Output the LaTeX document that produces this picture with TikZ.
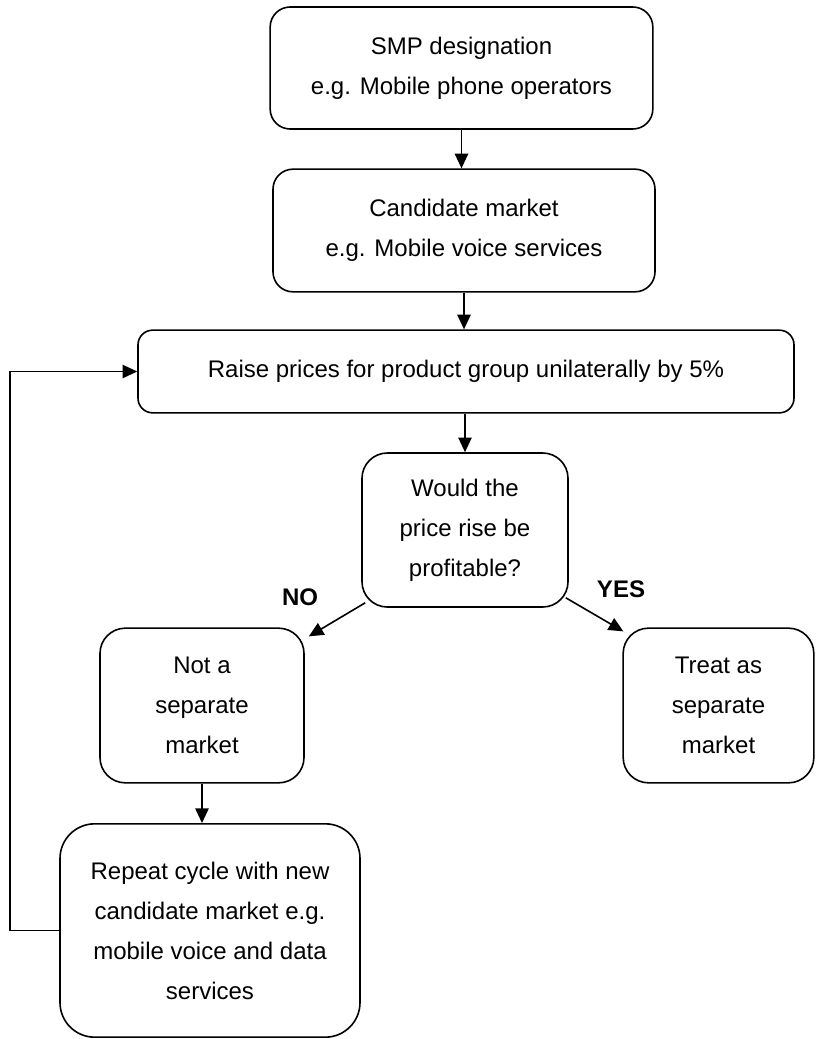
\documentclass[tikz,border=0pt]{standalone}
\usepackage{fontspec}
\setmainfont{Liberation Sans}
\usetikzlibrary{arrows.meta}

\begin{document}
\begin{tikzpicture}[x=0.75pt, y=-0.75pt, line width=1.2pt]
    \tikzstyle{every node}=[align = center, font=\fontsize{18}{30}\selectfont]
    \tikzstyle{box}=[draw, inner sep=0pt, rounded corners=15pt]
    \tikzstyle{arr}=[-{Triangle[length=11pt,width=10pt]}]
    \tikzstyle{answer}=[font=\fontsize{18}{22}\selectfont\bfseries]
    \useasboundingbox (0,0) rectangle (815,1039);

    \node[box, minimum width=287pt, minimum height=91.5pt] (smp) at (461.5,68)
        {SMP designation\\e.g. Mobile phone operators};
    \node[box, minimum width=286.5pt, minimum height=92pt] (cand) at (464,230.5)
        {Candidate market\\e.g. Mobile voice services};
    \node[box, rounded corners=11pt, minimum width=492pt, minimum height=62pt] (raise) at (466,371.5)
        {Raise prices for product group unilaterally by 5\%};
    \node[box, rounded corners=19pt, minimum width=154.5pt, minimum height=115.5pt] (decide) at (465,530)
        {Would the\\price rise be\\profitable?};
    \node[box, rounded corners=19pt, minimum width=153pt, minimum height=116pt] (nota) at (202,705.5)
        {Not a\\separate\\market};
    \node[box, rounded corners=19pt, minimum width=143pt, minimum height=116pt] (treat) at (718.5,705.5)
        {Treat as\\separate\\market};
    \node[box, rounded corners=26pt, minimum width=225pt, minimum height=160pt] (repeat) at (210,930.5)
        {Repeat cycle with new\\candidate market e.g.\\mobile voice and data\\services};

    \node[answer] (no) at (300,597) {NO};
    \node[answer] (yes) at (621,589) {YES};

    \draw[arr] (smp.south) -- (smp.south |- cand.north);
    \draw[arr] (cand.south) -- (cand.south |- raise.north);
    \draw[arr] (decide.north |- raise.south) -- (decide.north);
    \draw[arr] ([shift={(4,-5)}]decide.south west) -- ([shift={(4,9)}]nota.north east);
    \draw[arr] ([shift={(-3,-10)}]decide.south east) -- ([shift={(1,4)}]treat.north west);
    \draw[arr] (nota.south) -- (nota.south |- repeat.north);
    % back to the price rise
    \draw[arr] (repeat.west) -- ++(-49,0) |- (raise.west);
\end{tikzpicture}
\end{document}
